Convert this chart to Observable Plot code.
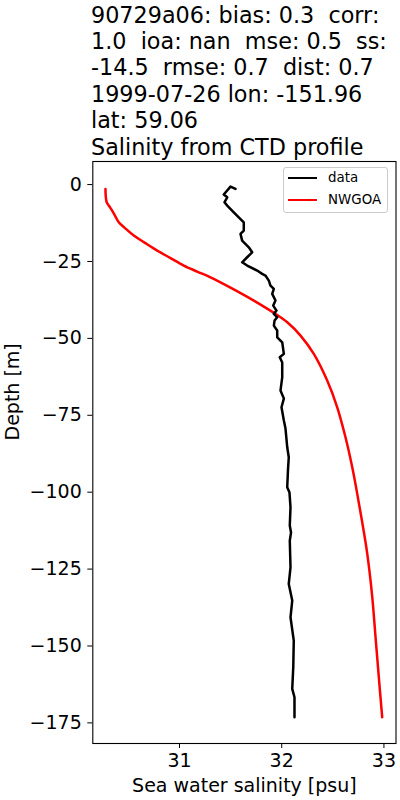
<!DOCTYPE html>
<html><head><meta charset="utf-8">
<script src="https://cdn.jsdelivr.net/npm/d3@7"></script>
<script src="https://cdn.jsdelivr.net/npm/@observablehq/plot@0.6"></script>
<style>
html,body{margin:0;padding:0;background:#fff;}
#wrap{position:relative;width:400px;height:800px;font-family:"DejaVu Sans",sans-serif;color:#000;overflow:hidden;}
#title{position:absolute;left:91px;top:1.5px;font-size:22.3px;line-height:26.4px;white-space:pre;}
#chart{position:absolute;left:0;top:160px;}
#legend{position:absolute;left:283px;top:167px;width:105px;height:46px;box-sizing:border-box;border:1px solid #cccccc;border-radius:3px;background:rgba(255,255,255,0.8);}
.lg-line{position:absolute;left:4px;width:29px;height:2px;}
.lg-text{position:absolute;left:44px;font-size:13.4px;line-height:16px;}
</style></head>
<body>
<div id="wrap"><div id="title"></div><div id="chart"></div><div id="legend"></div></div>
<script>
const titleLines = [
  "90729a06: bias: 0.3  corr:",
  "1.0  ioa: nan  mse: 0.5  ss:",
  "-14.5  rmse: 0.7  dist: 0.7",
  "1999-07-26 lon: -151.96",
  "lat: 59.06",
  "Salinity from CTD profile"
];
const xLabel = "Sea water salinity [psu]";
const yLabel = "Depth [m]";
const seriesNames = ["data", "NWGOA"];
const seriesColors = ["#000000", "#ff0000"];
const xTicks = [31, 32, 33];
const yTicks = [0, -25, -50, -75, -100, -125, -150, -175];

// observed CTD profile
const dataSalinity = [31.548,31.499,31.433,31.467,31.440,31.467,31.531,31.580,31.629,31.629,31.597,31.613,31.678,31.711,31.662,31.613,31.662,31.760,31.809,31.841,31.874,31.890,31.923,31.907,31.939,31.917,31.949,31.923,31.956,31.930,31.923,31.956,31.956,32.005,32.021,31.981,32.005,32.005,31.988,32.021,31.998,32.021,32.037,32.054,32.069,32.061,32.054,32.076,32.086,32.079,32.091,32.079,32.086,32.069,32.103,32.086,32.118,32.113,32.103,32.125,32.125];
const dataDepth = [-1.40,-0.65,-3.25,-4.13,-5.75,-6.83,-9.01,-10.63,-12.26,-14.95,-16.03,-18.21,-20.38,-22.01,-23.63,-25.26,-26.33,-27.96,-29.03,-29.58,-31.21,-32.83,-33.91,-35.53,-37.71,-39.34,-40.96,-42.04,-43.14,-44.21,-45.84,-47.46,-49.64,-51.27,-55.04,-56.14,-57.87,-62.65,-66.97,-69.57,-72.40,-76.72,-79.32,-85.40,-88.65,-92.98,-98.41,-100.13,-104.91,-110.86,-113.13,-115.73,-124.41,-129.81,-135.24,-140.67,-148.24,-156.92,-163.95,-166.68,-173.18];

// NWGOA model profile
const modelSalinity = [30.276,30.279,30.289,30.315,30.341,30.374,30.406,30.462,30.553,30.658,30.782,30.912,31.042,31.173,31.303,31.499,31.727,31.939,32.057,32.184,32.314,32.445,32.543,32.624,32.690,32.739,32.788,32.837,32.886,32.918,32.950,32.983];
const modelDepth = [-1.40,-3.90,-5.85,-7.15,-8.45,-10.40,-12.26,-13.98,-16.58,-18.86,-21.46,-23.89,-26.33,-28.28,-30.14,-33.49,-37.71,-42.04,-44.86,-49.09,-55.04,-63.72,-72.40,-82.15,-91.91,-100.55,-109.88,-120.06,-134.17,-147.17,-160.18,-173.18];

const obs = dataSalinity.map((s, i) => ({s, d: dataDepth[i]}));
const mod = modelSalinity.map((s, i) => ({s, d: modelDepth[i]}));

document.getElementById("title").innerHTML = titleLines.map(t => `<div>${t}</div>`).join("");

const fmtMinus = d => d < 0 ? "\u2212" + Math.abs(d) : String(d);

const chart = Plot.plot({
  width: 400,
  height: 640,
  marginTop: 1,
  marginBottom: 57,
  marginLeft: 92.3,
  marginRight: 4.5,
  style: {fontFamily: "DejaVu Sans, sans-serif", fontSize: "19px", color: "#000", background: "transparent"},
  x: {domain: [30.152, 33.118]},
  y: {domain: [-181.7, 7.5]},
  marks: [
    Plot.line(mod, {x: "s", y: "d", stroke: seriesColors[1], strokeWidth: 2.5, curve: "catmull-rom"}),
    Plot.line(obs, {x: "s", y: "d", stroke: seriesColors[0], strokeWidth: 2.5, strokeLinejoin: "round"}),
    Plot.axisX({ticks: xTicks, tickSize: 5, tickPadding: 5.2, tickFormat: fmtMinus, label: null, fontSize: 19}),
    Plot.axisY({ticks: yTicks, tickSize: 5, tickPadding: 6, tickFormat: fmtMinus, label: null, fontSize: 19}),
    Plot.frame({stroke: "#000", strokeWidth: 1.1}),
    Plot.text([xLabel], {text: d => d, frameAnchor: "bottom", dy: 42.6, fontSize: 19, lineAnchor: "middle"}),
    Plot.text([yLabel], {text: d => d, frameAnchor: "left", dx: -80.3, dy: -12, rotate: -90, fontSize: 19, lineAnchor: "middle"})
  ]
});
document.getElementById("chart").appendChild(chart);

const legend = document.getElementById("legend");
const rows = [11.3, 32.7];
seriesNames.forEach((name, i) => {
  const ln = document.createElement("div");
  ln.className = "lg-line";
  ln.style.top = (rows[i] - 1 - 1) + "px";
  ln.style.background = seriesColors[i];
  legend.appendChild(ln);
  const tx = document.createElement("div");
  tx.className = "lg-text";
  tx.style.top = (rows[i] - 1 - 8) + "px";
  tx.textContent = name;
  legend.appendChild(tx);
});
</script>
</body></html>
